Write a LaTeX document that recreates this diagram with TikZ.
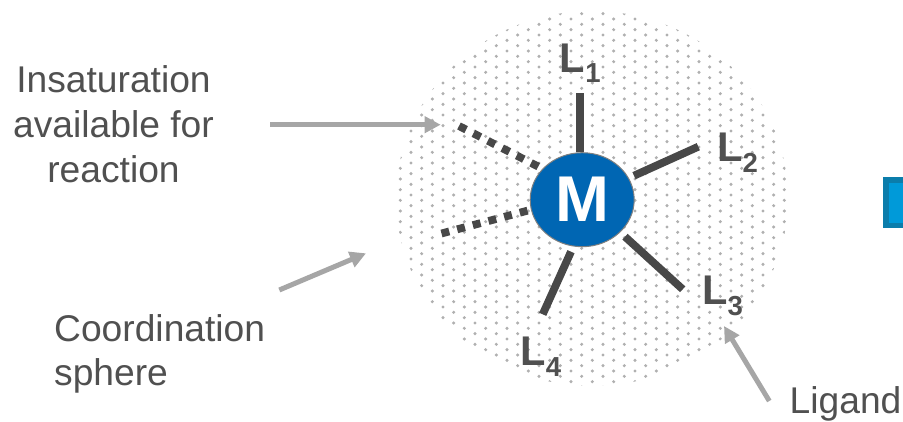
\documentclass[tikz,border=0pt]{standalone}
\usepackage{fontspec}
\setmainfont{Liberation Sans}
\usetikzlibrary{arrows.meta,shapes.geometric}
\definecolor{txt}{HTML}{505050}
\definecolor{bond}{HTML}{484848}
\definecolor{pointer}{HTML}{A6A6A6}
\definecolor{dotc}{HTML}{B0B0B0}
\definecolor{metal}{HTML}{0066B3}
\definecolor{tabfill}{HTML}{009AD9}
\definecolor{tabedge}{HTML}{0B7DAB}
\newcommand{\ligand}[1]{\textbf{\fontsize{41.5}{41.5}\selectfont L}\raisebox{-10.8pt}{\textbf{\fontsize{27.5}{27.5}\selectfont #1}}}
\tikzset{
  label text/.style={font=\fontsize{37.2}{45}\selectfont, text=txt, align=center, inner sep=0pt, anchor=base},
  side text/.style={font=\fontsize{37.2}{44}\selectfont, text=txt, align=left, inner sep=0pt, anchor=base west},
  ligand label/.style={text=txt, inner sep=0pt, anchor=base west},
  bondline/.style={draw=bond, line width=7.8pt},
  openbond/.style={draw=bond, line width=7.8pt, dash pattern=on 8pt off 8.2pt},
  pointerline/.style={draw=pointer, line width=5pt, -{Triangle[length=16pt,width=16pt]}},
  metal centre/.style={ellipse, draw=gray, fill=metal, line width=1pt, inner sep=0pt, minimum width=104pt, minimum height=94pt, text=white, font=\bfseries\fontsize{64.7}{64.7}\selectfont}
}
\begin{document}
\begin{tikzpicture}[x=1pt,y=-1pt]
\useasboundingbox (0,0) rectangle (903,422);
% dotted coordination sphere
\begin{scope}
  \clip (592,198.5) ellipse [x radius=196, y radius=187.5];
  \foreach \c in {-18,...,19}{
    \pgfmathsetmacro{\px}{581.67+\c*10.667}
    \pgfmathsetmacro{\py}{isodd(\c) ? 8.33 : 3.0}
    \foreach \r in {0,...,37}{
      \fill[dotc] (\px,\py+\r*10.667) circle [radius=1.7];
    }
  }
\end{scope}
% metal centre
\node[metal centre] (M) at (582.2,199.7) {M};
% ligand labels
\node[ligand label] (L1) at (559.7,72.2) {\ligand{1}};
\node[ligand label] (L2) at (717,161.5) {\ligand{2}};
\node[ligand label] (L3) at (702,304.8) {\ligand{3}};
\node[ligand label] (L4) at (520.3,365.5) {\ligand{4}};
% bond end points
\coordinate (b1a) at (580,152.5); \coordinate (b1b) at (580,92.7);
\coordinate (b2a) at (634,175.7); \coordinate (b2b) at (698.3,146.7);
\coordinate (b3a) at (625,236.7); \coordinate (b3b) at (682.7,289.3);
\coordinate (b4a) at (571,251.7); \coordinate (b4b) at (542.7,314.3);
\coordinate (o1a) at (459,126); \coordinate (o1b) at (541,168);
\coordinate (o2a) at (441.5,233.5); \coordinate (o2b) at (530,210);
\draw[bondline] (b1a) -- (b1b);
\draw[bondline] (b2a) -- (b2b);
\draw[bondline] (b3a) -- (b3b);
\draw[bondline] (b4a) -- (b4b);
\draw[openbond] (o1a) -- (o1b);
\draw[openbond] (o2a) -- (o2b);
% annotations
\node[label text] (insat) at (113.5,182.3) {Insaturation\\available for\\reaction};
\node[side text] (coord) at (54,385.7) {Coordination\\sphere};
\node[side text] (ligandtext) at (789.5,413) {Ligand};
\coordinate (p1a) at (270,124.7); \coordinate (p1b) at (440.7,124.7);
\coordinate (p2a) at (279.3,290); \coordinate (p2b) at (366,253.3);
\coordinate (p3a) at (769.3,401); \coordinate (p3b) at (724,326);
\draw[pointerline] (p1a) -- (p1b);
\draw[pointerline] (p2a) -- (p2b);
\draw[pointerline] (p3a) -- (p3b);
% clipped box at the right edge
\begin{scope}
  \clip (0,0) rectangle (903,422);
  \draw[fill=tabfill, draw=tabedge, line width=5.5pt] (886.2,180) rectangle (930,225.6);
\end{scope}
\end{tikzpicture}
\end{document}
